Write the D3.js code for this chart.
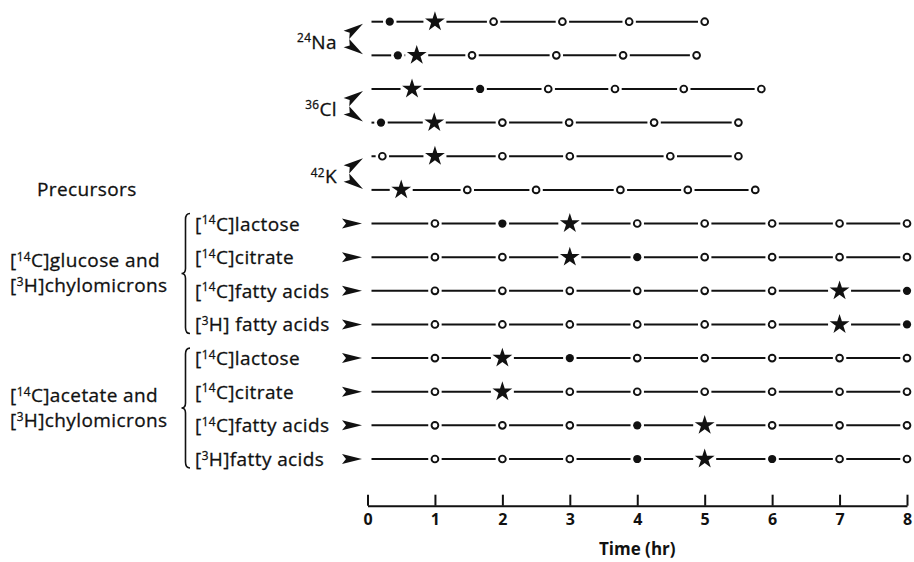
<!DOCTYPE html>
<html>
<head>
<meta charset="utf-8">
<script src="https://cdn.jsdelivr.net/npm/d3@7"></script>
<style>
  body { margin: 0; background: #fff; }
  svg { display: block; font-family: "Open Sans", Lato, sans-serif; }
  .lbl { font-size: 19px; letter-spacing: 0.4px; fill: #111; stroke: #111; stroke-width: 0.3px; }
  .axis path, .axis line { stroke: #111; stroke-width: 2; }
  .axis text { font-size: 16px; font-weight: bold; fill: #111; font-family: "Open Sans", sans-serif; }
</style>
</head>
<body>
<div id="viz"></div>
<script>
// tick labels of the time axis (hr)
var xTicks = [0, 1, 2, 3, 4, 5, 6, 7, 8];

// ions, two rows each: times (hr) and marker kind (f = filled dot, s = star, o = open circle)
var ionLabels = ["24Na", "36Cl", "42K"];
var ionTimes = [
    [0.33, 1.0, 1.87, 2.89, 3.88, 5.0],
    [0.45, 0.73, 1.55, 2.8, 3.79, 4.88],
    [0.66, 1.67, 2.68, 3.67, 4.69, 5.84],
    [0.2, 0.99, 2.0, 2.99, 4.25, 5.5],
    [0.22, 1.0, 2.0, 3.0, 4.49, 5.5],
    [0.5, 1.48, 2.5, 3.75, 4.75, 5.75]
];
var ionKinds = [
    ["f", "s", "o", "o", "o", "o"],
    ["f", "s", "o", "o", "o", "o"],
    ["s", "f", "o", "o", "o", "o"],
    ["f", "s", "o", "o", "o", "o"],
    ["o", "s", "o", "o", "o", "o"],
    ["s", "o", "o", "o", "o", "o"]
];

// precursor rows, sampled every hour
var precursorHours = [1, 2, 3, 4, 5, 6, 7, 8];
var groupLabels = [
    ["[14C]glucose and", "[3H]chylomicrons"],
    ["[14C]acetate and", "[3H]chylomicrons"]
];
var precursorLabels = [
    "[14C]lactose", "[14C]citrate", "[14C]fatty acids", "[3H] fatty acids",
    "[14C]lactose", "[14C]citrate", "[14C]fatty acids", "[3H]fatty acids"
];
var precursorKinds = [
    ["o", "f", "s", "o", "o", "o", "o", "o"],
    ["o", "o", "s", "f", "o", "o", "o", "o"],
    ["o", "o", "o", "o", "o", "o", "s", "f"],
    ["o", "o", "o", "o", "o", "o", "s", "f"],
    ["o", "s", "f", "o", "o", "o", "o", "o"],
    ["o", "s", "o", "o", "o", "o", "o", "o"],
    ["o", "o", "o", "f", "s", "o", "o", "o"],
    ["o", "o", "o", "f", "s", "f", "o", "o"]
];

var width = 914, height = 562;

var svg = d3.select("#viz").append("svg")
    .attr("width", width)
    .attr("height", height);

var x = d3.scaleLinear().domain([0, 8]).range([367.5, 907]);
var y = d3.scalePoint().domain(d3.range(ionTimes.length + precursorLabels.length)).range([21.7, 459]);

// rows as one list
var rows = [];
ionTimes.forEach(function(t, i) {
    rows.push({ pts: t.map(function(v, j) { return { t: v, k: ionKinds[i][j] }; }) });
});
precursorKinds.forEach(function(ks) {
    rows.push({ pts: precursorHours.map(function(h, j) { return { t: h, k: ks[j] }; }) });
});

var radius = { s: 9, f: 4.2, o: 4.2 };
var gap = 2.5;

// superscripted labels like [14C]lactose or 24Na
function richText(sel, str) {
    var m = str.match(/^(\[?)(\d+)(.*)$/);
    sel.append("tspan").text(m[1]);
    sel.append("tspan").attr("font-size", "0.62em").attr("dy", "-0.55em").text(m[2]);
    sel.append("tspan").attr("dy", "0.34em").text(m[3]);
}

var lines = svg.append("g").attr("stroke", "#111").attr("stroke-width", 2);
rows.forEach(function(r, i) {
    var prev = x(0) + 4;
    r.pts.forEach(function(p) {
        var cx = x(p.t);
        var x2 = cx - radius[p.k] - gap;
        if (x2 - prev > 0.5) {
            lines.append("line")
                .attr("x1", prev).attr("x2", x2)
                .attr("y1", y(i)).attr("y2", y(i));
        }
        prev = cx + radius[p.k] + gap;
    });
});

var marks = svg.append("g");
rows.forEach(function(r, i) {
    marks.selectAll(null)
        .data(r.pts).enter()
        .append("path")
        .attr("transform", function(d) { return "translate(" + x(d.t) + "," + y(i) + ")"; })
        .attr("d", function(d) {
            if (d.k === "s") return d3.symbol(d3.symbolStar, 122)();
            if (d.k === "f") return d3.symbol(d3.symbolCircle, Math.PI * 17)();
            return d3.symbol(d3.symbolCircle, Math.PI * 11.5)();
        })
        .attr("fill", function(d) { return d.k === "o" ? "#fff" : "#111"; })
        .attr("stroke", "#111")
        .attr("stroke-width", function(d) { return d.k === "o" ? 1.9 : 0; });
});

// arrowheads
var arrowPath = "M0,0L-20,-5L-16,0L-20,5Z";
var arrows = svg.append("g").attr("fill", "#111");
ionLabels.forEach(function(l, i) {
    var yTop = y(i * 2), yBot = y(i * 2 + 1);
    arrows.append("path").attr("d", arrowPath)
        .attr("transform", "translate(363," + (yTop + 2) + ") rotate(-34)");
    arrows.append("path").attr("d", arrowPath)
        .attr("transform", "translate(363," + (yBot - 1) + ") rotate(34)");
    svg.append("text").attr("class", "lbl")
        .attr("x", 337).attr("y", (yTop + yBot) / 2 + 10)
        .attr("text-anchor", "end")
        .call(richText, l);
});
precursorLabels.forEach(function(l, i) {
    var yy = y(ionTimes.length + i);
    arrows.append("path").attr("d", arrowPath)
        .attr("transform", "translate(362," + yy + ")");
    svg.append("text").attr("class", "lbl")
        .attr("x", 195).attr("y", yy + 7)
        .call(richText, l);
});

svg.append("text").attr("class", "lbl")
    .attr("x", 37).attr("y", y(5) + 6)
    .text("Precursors");

// braces and group labels
groupLabels.forEach(function(g, i) {
    var y0 = y(ionTimes.length + i * 4) - 10;
    var y1 = y(ionTimes.length + i * 4 + 3) + 9;
    var mid = (y0 + y1) / 2;
    svg.append("path")
        .attr("fill", "none").attr("stroke", "#111").attr("stroke-width", 1.6)
        .attr("d", "M190," + y0 + "Q185.5," + y0 + " 185.5," + (y0 + 6) +
            "L185.5," + (mid - 5) + "Q185.5," + mid + " 181.5," + mid +
            "Q185.5," + mid + " 185.5," + (mid + 5) +
            "L185.5," + (y1 - 6) + "Q185.5," + y1 + " 190," + y1);
    svg.append("text").attr("class", "lbl")
        .attr("x", 10).attr("y", mid - 6)
        .call(richText, g[0]);
    svg.append("text").attr("class", "lbl")
        .attr("x", 10).attr("y", mid + 19)
        .call(richText, g[1]);
});

// time axis, ticks pointing up
svg.append("g")
    .attr("class", "axis")
    .attr("transform", "translate(0,505.7)")
    .call(d3.axisBottom(x).tickValues(xTicks).tickSize(-11).tickSizeOuter(0).tickPadding(8));

svg.append("text")
    .attr("x", (x(0) + x(8)) / 2).attr("y", 555)
    .attr("text-anchor", "middle")
    .attr("font-size", 17).attr("font-weight", "bold").attr("fill", "#111")
    .text("Time (hr)");
</script>
</body>
</html>
